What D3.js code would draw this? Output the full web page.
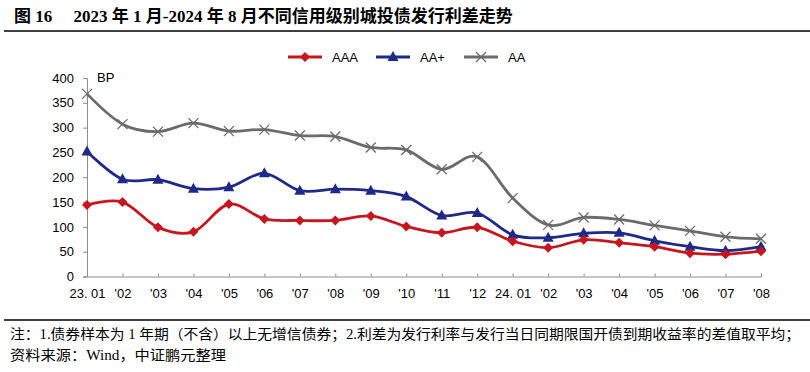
<!DOCTYPE html>
<html>
<head>
<meta charset="utf-8">
<script src="https://cdn.jsdelivr.net/npm/d3@7"></script>
<style>
  body { margin: 0; background: #fff; }
  svg { display: block; }
</style>
</head>
<body>
<svg id="canvas" width="810" height="372"></svg>
<script>
let months = ['23. 01', "'02", "'03", "'04", "'05", "'06", "'07", "'08", "'09", "'10", "'11", "'12",
    '24. 01', "'02", "'03", "'04", "'05", "'06", "'07", "'08"];
let aaa = [144, 150, 99, 90, 146, 116, 113, 113, 122, 101, 88, 99, 71, 58, 74, 68, 60, 47, 45, 51];
let aaPlus = [252, 196, 195, 177, 180, 208, 173, 176, 173, 161, 123, 128, 84, 78, 87, 88, 72, 60, 52, 60];
let aa = [368, 307, 292, 309, 293, 296, 284, 282, 260, 255, 216, 241, 158, 104, 119, 115, 103, 92, 80, 76];
let yTicks = [0, 50, 100, 150, 200, 250, 300, 350, 400];

let seriesList = [
    { name: 'AAA', values: aaa, color: '#c8161e', marker: 'diamond' },
    { name: 'AA+', values: aaPlus, color: '#1f2a88', marker: 'triangle' },
    { name: 'AA', values: aa, color: '#6b6b6b', marker: 'cross' }
];

let canvas = d3.select('#canvas');
let cjk = '"Liberation Serif", "Noto Sans CJK SC", serif';
let sans = '"Liberation Sans", Arial, sans-serif';

// title + rule
canvas.append('text')
    .attr('x', 14).attr('y', 22)
    .attr('font-family', cjk)
    .attr('font-weight', 'bold')
    .attr('font-size', 17)
    .attr('fill', '#000')
    .text('图 16\u2003 2023 年 1 月-2024 年 8 月不同信用级别城投债发行利差走势');
canvas.append('line')
    .attr('x1', 4).attr('x2', 810).attr('y1', 31).attr('y2', 31)
    .attr('stroke', '#000').attr('stroke-width', 1.5);

let x = d3.scalePoint()
    .domain(d3.range(months.length))
    .range([87, 761]);
let y = d3.scaleLinear()
    .domain([0, 400])
    .range([276.5, 78]);

// axes
let yAxis = canvas.append('g')
    .attr('transform', 'translate(87,0)')
    .call(d3.axisLeft(y).tickValues(yTicks).tickSize(4).tickPadding(9));
let xAxis = canvas.append('g')
    .attr('transform', 'translate(0,276.5)')
    .call(d3.axisBottom(x).tickSize(-3).tickPadding(9).tickFormat((i) => months[i]));

[yAxis, xAxis].forEach((ax) => {
    ax.select('.domain').attr('stroke', '#8c8c8c');
    ax.selectAll('.tick line').attr('stroke', '#8c8c8c');
    ax.selectAll('text')
        .attr('font-family', sans)
        .attr('font-size', 13)
        .attr('fill', '#000');
});
xAxis.selectAll('text').attr('dy', '0.95em');

canvas.append('text')
    .attr('x', 97).attr('y', 82)
    .attr('font-family', sans).attr('font-size', 13)
    .text('BP');

let lineGen = d3.line()
    .x((d, i) => x(i))
    .y((d) => y(d))
    .curve(d3.curveCatmullRom.alpha(0));

let drawMarker = (g, type, color, cx, cy) => {
    if (type === 'diamond') {
        g.append('path')
            .attr('d', `M${cx},${cy - 5}L${cx + 5},${cy}L${cx},${cy + 5}L${cx - 5},${cy}Z`)
            .attr('fill', color);
    } else if (type === 'triangle') {
        g.append('path')
            .attr('d', `M${cx},${cy - 6}L${cx + 5.5},${cy + 4}L${cx - 5.5},${cy + 4}Z`)
            .attr('fill', color);
    } else {
        g.append('path')
            .attr('d', `M${cx - 5},${cy - 5}L${cx + 5},${cy + 5}M${cx + 5},${cy - 5}L${cx - 5},${cy + 5}`)
            .attr('stroke', color).attr('stroke-width', 1.3).attr('fill', 'none');
    }
};

// draw AA first so red sits on top
seriesList.slice().reverse().forEach((s) => {
    let g = canvas.append('g');
    g.append('path')
        .attr('d', lineGen(s.values))
        .attr('fill', 'none')
        .attr('stroke', s.color)
        .attr('stroke-width', 2.8);
    s.values.forEach((v, i) => drawMarker(g, s.marker, s.color, x(i), y(v)));
});

// legend
let legendX = [288, 376, 464];
seriesList.forEach((s, i) => {
    let g = canvas.append('g');
    let lx = legendX[i];
    g.append('line')
        .attr('x1', lx).attr('x2', lx + 34).attr('y1', 57).attr('y2', 57)
        .attr('stroke', s.color).attr('stroke-width', 3);
    drawMarker(g, s.marker, s.color, lx + 17, 57);
    g.append('text')
        .attr('x', lx + 44).attr('y', 62)
        .attr('font-family', sans).attr('font-size', 13)
        .text(s.name);
});

// footnote
canvas.append('line')
    .attr('x1', 4).attr('x2', 810).attr('y1', 320).attr('y2', 320)
    .attr('stroke', '#000').attr('stroke-width', 1.5);
canvas.append('text')
    .attr('x', 10).attr('y', 339)
    .attr('font-family', cjk).attr('font-size', 14)
    .attr('textLength', 790).attr('lengthAdjust', 'spacingAndGlyphs')
    .text('注：1.债券样本为 1 年期（不含）以上无增信债券；2.利差为发行利率与发行当日同期限国开债到期收益率的差值取平均；');
canvas.append('text')
    .attr('x', 10).attr('y', 360)
    .attr('font-family', cjk).attr('font-size', 14)
    .attr('textLength', 216).attr('lengthAdjust', 'spacingAndGlyphs')
    .text('资料来源：Wind，中证鹏元整理');
</script>
</body>
</html>
